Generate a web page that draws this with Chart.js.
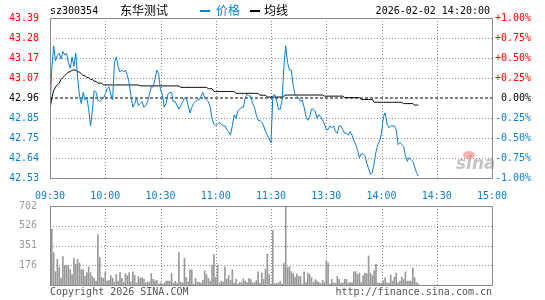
<!DOCTYPE html>
<html>
<head>
<meta charset="utf-8">
<script src="https://cdn.jsdelivr.net/npm/chart.js@4.4.1/dist/chart.umd.min.js"></script>
<style>
  html, body { margin: 0; padding: 0; background: #fff; }
  #wrap { position: relative; width: 545px; height: 300px; overflow: hidden; background: #fff; }
  canvas { position: absolute; left: 0; }
  #priceCanvas { top: 0; }
  #volCanvas { top: 195px; }
</style>
</head>
<body>
<div id="wrap">
  <canvas id="priceCanvas" width="545" height="200"></canvas>
  <canvas id="volCanvas" width="545" height="105"></canvas>
</div>
<script>
//分时图: 价格 + 均线 + 成交量
// --------------------------------------------------

const stockCode = "sz300354";
const stockName = "东华测试";
const stamp = "2026-02-02 14:20:00";
const prevClose = 42.96;
const totalMinutes = 240;

const timeTicks = ["09:30", "10:00", "10:30", "11:00", "11:30", "13:30", "14:00", "14:30", "15:00"];
const pctSteps = [-1, -0.75, -0.5, -0.25, 0, 0.25, 0.5, 0.75, 1];
const priceTickLabels = ["42.53", "42.64", "42.75", "42.85", "42.96", "43.07", "43.17", "43.28", "43.39"];
const pctTickLabels = ["-1.00%", "-0.75%", "-0.50%", "-0.25%", "0.00%", "+0.25%", "+0.50%", "+0.75%", "+1.00%"];
const volMax = 702;
const volSteps = [0, 175.5, 351, 526.5, 702];
const volTickLabels = ["", "176", "351", "526", "702"];

// one value per minute, 09:30 .. 11:30, 13:01 .. 14:20
const prices = [
  42.90, 43.12, 43.24, 43.16, 43.19, 43.20, 43.17, 43.21, 43.19, 43.20,
  43.15, 43.12, 43.18, 43.13, 43.20, 43.07, 42.97, 42.93, 42.99, 42.95,
  42.96, 42.90, 42.81, 42.89, 43.00, 42.99, 42.95, 42.94, 42.95, 42.96,
  42.98, 43.01, 43.02, 42.98, 42.95, 43.15, 43.18, 43.13, 43.10, 43.11,
  43.10, 43.11, 43.08, 43.04, 42.97, 42.91, 42.93, 42.96, 42.92, 42.93,
  42.94, 42.91, 42.92, 42.94, 42.98, 43.02, 43.02, 43.06, 43.11, 43.09,
  43.00, 42.98, 42.91, 42.93, 42.98, 42.99, 42.99, 42.94, 42.94, 42.92,
  42.90, 42.92, 42.94, 42.96, 42.96, 42.92, 42.88, 42.91, 42.93, 42.94,
  42.95, 42.95, 42.97, 42.99, 42.96, 42.95, 42.94, 42.91, 42.85, 42.82,
  42.81, 42.82, 42.83, 42.82, 42.81, 42.81, 42.79, 42.78, 42.76, 42.81,
  42.87, 42.85, 42.89, 42.90, 42.91, 42.91, 42.96, 42.98, 42.97, 42.97,
  42.93, 42.91, 42.87, 42.84, 42.84, 42.83, 42.81, 42.78, 42.76, 42.74,
  42.72, 42.97, 42.98, 42.95, 42.90, 42.90, 42.95, 43.13, 43.24, 43.15,
  43.11, 43.11, 43.03, 42.98, 42.97, 42.96, 42.94, 42.95, 42.91, 42.86,
  42.84, 42.86, 42.90, 42.90, 42.89, 42.85, 42.87, 42.86, 42.84, 42.82,
  42.79, 42.79, 42.81, 42.80, 42.81, 42.78, 42.77, 42.81, 42.81, 42.79,
  42.77, 42.77, 42.76, 42.78, 42.76, 42.73, 42.71, 42.68, 42.64, 42.66,
  42.66, 42.65, 42.61, 42.58, 42.55, 42.56, 42.61, 42.67, 42.71, 42.73,
  42.77, 42.86, 42.88, 42.82, 42.80, 42.81, 42.81, 42.81, 42.79, 42.71,
  42.72, 42.71, 42.70, 42.65, 42.62, 42.64, 42.63, 42.62, 42.59, 42.56,
  42.54
];

const avgPrices = [
  42.900, 42.960, 43.000, 43.020, 43.030, 43.040, 43.060, 43.070, 43.080, 43.090,
  43.100, 43.100, 43.110, 43.110, 43.110, 43.100, 43.100, 43.090, 43.080, 43.080,
  43.070, 43.070, 43.060, 43.060, 43.050, 43.050, 43.040, 43.040, 43.040, 43.030,
  43.030, 43.030, 43.030, 43.030, 43.030, 43.030, 43.030, 43.030, 43.030, 43.030,
  43.030, 43.030, 43.030, 43.030, 43.030, 43.030, 43.030, 43.030, 43.030, 43.025,
  43.025, 43.025, 43.025, 43.025, 43.025, 43.025, 43.025, 43.025, 43.025, 43.025,
  43.025, 43.025, 43.025, 43.025, 43.025, 43.025, 43.025, 43.025, 43.025, 43.025,
  43.025, 43.017, 43.017, 43.017, 43.017, 43.017, 43.017, 43.017, 43.017, 43.017,
  43.017, 43.017, 43.017, 43.017, 43.017, 43.017, 43.010, 43.010, 43.010, 42.995,
  42.995, 42.995, 42.995, 42.995, 42.995, 42.995, 42.995, 42.995, 42.995, 42.995,
  42.995, 42.985, 42.985, 42.985, 42.985, 42.985, 42.985, 42.985, 42.985, 42.985,
  42.985, 42.985, 42.985, 42.985, 42.975, 42.975, 42.975, 42.975, 42.965, 42.965,
  42.965, 42.965, 42.965, 42.965, 42.965, 42.965, 42.965, 42.970, 42.976, 42.976,
  42.976, 42.976, 42.976, 42.976, 42.976, 42.976, 42.976, 42.976, 42.976, 42.976,
  42.976, 42.976, 42.976, 42.976, 42.976, 42.976, 42.976, 42.976, 42.976, 42.970,
  42.970, 42.970, 42.970, 42.970, 42.970, 42.970, 42.970, 42.970, 42.970, 42.970,
  42.962, 42.962, 42.962, 42.962, 42.962, 42.962, 42.962, 42.962, 42.962, 42.952,
  42.952, 42.952, 42.952, 42.952, 42.952, 42.952, 42.937, 42.937, 42.937, 42.937,
  42.937, 42.937, 42.937, 42.937, 42.937, 42.937, 42.937, 42.937, 42.937, 42.937,
  42.937, 42.937, 42.930, 42.930, 42.930, 42.930, 42.930, 42.930, 42.922, 42.922,
  42.922
];

const volumes = [
  84, 497, 287, 118, 230, 155, 62, 253, 174, 174,
  174, 135, 93, 236, 185, 228, 194, 135, 135, 76,
  110, 160, 110, 76, 59, 34, 447, 244, 67, 59,
  118, 34, 42, 84, 59, 25, 93, 34, 110, 59,
  25, 101, 84, 110, 25, 118, 84, 17, 76, 59,
  67, 51, 17, 25, 25, 101, 51, 34, 42, 8,
  22, 8, 17, 34, 34, 34, 101, 17, 34, 17,
  287, 25, 17, 236, 67, 25, 135, 135, 8, 59,
  25, 25, 17, 42, 126, 93, 59, 34, 177, 270,
  67, 177, 17, 34, 25, 160, 51, 84, 42, 135,
  17, 51, 8, 22, 22, 56, 34, 22, 56, 51,
  17, 22, 39, 118, 14, 107, 51, 140, 275, 93,
  11, 483, 11, 17, 17, 34, 8, 191, 702, 155,
  163, 118, 101, 70, 98, 76, 76, 8, 118, 22,
  107, 93, 65, 22, 48, 34, 22, 11, 42, 22,
  211, 197, 8, 51, 17, 17, 76, 51, 17, 17,
  51, 51, 17, 22, 22, 118, 118, 93, 107, 22,
  84, 107, 101, 259, 107, 84, 126, 183, 17, 17,
  17, 39, 65, 17, 17, 90, 34, 70, 107, 17,
  34, 70, 51, 118, 34, 34, 34, 152, 65, 22,
  8
];

const BLUE = "#0b7dd0";
const RED = "#ff0000";
const GRID = "#8a8a8a";
const FRAME = "#8a8a8a";
const VOLGRAY = "#999999";
const MONO = '"DejaVu Sans Mono", "Liberation Mono", monospace';
const CJK = '"Noto Sans CJK SC", "Noto Sans", sans-serif';

const yMin = prevClose * (1 + pctSteps[0] / 100);
const yMax = prevClose * (1 + pctSteps[pctSteps.length - 1] / 100);
const pctLevels = pctSteps.map(p => prevClose * (1 + p / 100));
const pctTickValues = () => pctLevels.map(v => ({ value: v }));
const tickColor = (c) => c.index > 4 ? RED : (c.index < 4 ? BLUE : "#000");

// rejilla punteada: verticales cada 30 min, horizontales en los niveles dados
const dottedGrid = {
  id: "dottedGrid",
  beforeDatasetsDraw(chart, args, opts) {
    const { ctx, chartArea: a, scales } = chart;
    ctx.save();
    ctx.strokeStyle = GRID;
    ctx.lineWidth = 1;
    ctx.setLineDash([1, 2]);
    for (let t = 30; t < totalMinutes; t += 30) {
      const x = Math.round(scales.x.getPixelForValue(t)) + 0.5;
      ctx.beginPath();
      ctx.moveTo(x, a.top);
      ctx.lineTo(x, a.bottom);
      ctx.stroke();
    }
    (opts.levels || []).forEach(v => {
      const y = Math.round(scales.y.getPixelForValue(v)) + 0.5;
      ctx.beginPath();
      ctx.moveTo(a.left, y);
      ctx.lineTo(a.right, y);
      ctx.stroke();
    });
    ctx.restore();
  }
};

// marco del área de trazado
const frame = {
  id: "frame",
  afterDraw(chart) {
    const { ctx, chartArea: a } = chart;
    ctx.save();
    ctx.setLineDash([]);
    ctx.strokeStyle = FRAME;
    ctx.lineWidth = 1;
    ctx.strokeRect(Math.round(a.left) + 0.5, Math.round(a.top) + 0.5,
      Math.round(a.right - a.left), Math.round(a.bottom - a.top));
    ctx.restore();
  }
};

// cabecera + marca de agua
const header = {
  id: "header",
  beforeDatasetsDraw(chart) {
    const ctx = chart.ctx;
    ctx.save();
    ctx.font = 'italic bold 17px "DejaVu Sans", sans-serif';
    ctx.fillStyle = "rgba(150,150,150,0.55)";
    ctx.textBaseline = "alphabetic";
    ctx.fillText("sina", 456, 169);
    ctx.fillStyle = "rgba(235,90,90,0.45)";
    ctx.beginPath();
    ctx.ellipse(469, 155, 6, 4, 0, 0, Math.PI * 2);
    ctx.fill();
    ctx.restore();
  },
  afterDraw(chart) {
    const ctx = chart.ctx;
    ctx.save();
    ctx.textBaseline = "middle";
    ctx.fillStyle = "#000";
    ctx.font = "10px " + MONO;
    ctx.textAlign = "left";
    ctx.fillText(stockCode, 50, 11);
    ctx.font = "12px " + CJK;
    ctx.fillText(stockName, 120, 10);
    ctx.fillStyle = BLUE;
    ctx.fillRect(200, 10, 10, 2);
    ctx.fillText("价格", 216, 10);
    ctx.fillStyle = "#000";
    ctx.fillRect(250, 10, 10, 2);
    ctx.fillText("均线", 264, 10);
    ctx.font = "10px " + MONO;
    ctx.textAlign = "right";
    ctx.fillText(stamp, 490, 11);
    ctx.restore();
  }
};

const footer = {
  id: "footer",
  afterDraw(chart) {
    const ctx = chart.ctx;
    ctx.save();
    ctx.font = "10px " + MONO;
    ctx.fillStyle = "#555";
    ctx.textBaseline = "middle";
    ctx.textAlign = "left";
    ctx.fillText("Copyright 2026 SINA.COM", 50, 97);
    ctx.textAlign = "right";
    ctx.fillText("http://finance.sina.com.cn", 492, 97);
    ctx.restore();
  }
};

const xTimeAxis = (showLabels) => ({
  type: "linear",
  min: 0,
  max: totalMinutes,
  offset: false,
  grid: { display: false, offset: false },
  border: { display: false },
  ticks: {
    display: showLabels,
    stepSize: 30,
    autoSkip: false,
    maxRotation: 0,
    padding: 4,
    color: BLUE,
    font: { family: MONO, size: 10 },
    callback: (v) => timeTicks[v / 30]
  },
  afterFit: (s) => { s.height = showLabels ? 22 : 0; }
});

const priceChart = new Chart(document.getElementById("priceCanvas").getContext("2d"), {
  type: "line",
  data: {
    datasets: [
      {
        label: "价格",
        data: prices.map((p, i) => ({ x: i, y: p })),
        borderColor: BLUE,
        borderWidth: 1,
        pointRadius: 0,
        tension: 0,
        yAxisID: "y"
      },
      {
        label: "均线",
        data: avgPrices.map((p, i) => ({ x: i, y: p })),
        borderColor: "#000",
        borderWidth: 1,
        pointRadius: 0,
        tension: 0,
        yAxisID: "y"
      },
      {
        label: "昨收",
        data: [{ x: 0, y: prevClose }, { x: totalMinutes, y: prevClose }],
        borderColor: "#000",
        borderWidth: 1,
        borderDash: [3, 2],
        pointRadius: 0,
        yAxisID: "y"
      }
    ]
  },
  options: {
    responsive: false,
    animation: false,
    devicePixelRatio: 1,
    events: [],
    layout: { padding: { top: 18, right: 14, bottom: 0, left: 0 } },
    plugins: {
      legend: { display: false },
      tooltip: { enabled: false },
      dottedGrid: { levels: pctLevels.filter((v, i) => i !== 0 && i !== 4 && i !== pctLevels.length - 1) }
    },
    scales: {
      x: xTimeAxis(true),
      y: {
        type: "linear",
        position: "left",
        min: yMin,
        max: yMax,
        afterBuildTicks: (s) => { s.ticks = pctTickValues(); },
        grid: { display: false },
        border: { display: false },
        ticks: {
          padding: 3,
          color: tickColor,
          font: { family: MONO, size: 10 },
          callback: (v, i) => priceTickLabels[i]
        },
        afterFit: (s) => { s.width = 50; }
      },
      pct: {
        type: "linear",
        position: "right",
        min: yMin,
        max: yMax,
        afterBuildTicks: (s) => { s.ticks = pctTickValues(); },
        grid: { display: false },
        border: { display: false },
        ticks: {
          padding: 3,
          crossAlign: "far",
          color: tickColor,
          font: { family: MONO, size: 10 },
          callback: (v, i) => pctTickLabels[i]
        },
        afterFit: (s) => { s.width = 39; }
      }
    }
  },
  plugins: [dottedGrid, header, frame]
});

const volChart = new Chart(document.getElementById("volCanvas").getContext("2d"), {
  type: "bar",
  data: {
    datasets: [{
      label: "成交量",
      data: volumes.map((v, i) => ({ x: i, y: v })),
      backgroundColor: VOLGRAY,
      borderWidth: 0,
      barThickness: 1
    }]
  },
  options: {
    responsive: false,
    animation: false,
    devicePixelRatio: 1,
    events: [],
    layout: { padding: { top: 7, right: 53, bottom: 15, left: 0 } },
    plugins: {
      legend: { display: false },
      tooltip: { enabled: false },
      dottedGrid: { levels: volSteps.slice(1, -1) }
    },
    scales: {
      x: xTimeAxis(false),
      y: {
        type: "linear",
        min: 0,
        max: volMax,
        afterBuildTicks: (s) => { s.ticks = volSteps.map(v => ({ value: v })); },
        grid: { display: false },
        border: { display: false },
        ticks: {
          padding: 5,
          color: VOLGRAY,
          font: { family: MONO, size: 10 },
          callback: (v, i) => volTickLabels[i]
        },
        afterFit: (s) => { s.width = 50; }
      }
    }
  },
  plugins: [dottedGrid, frame, footer]
});
</script>
</body>
</html>
